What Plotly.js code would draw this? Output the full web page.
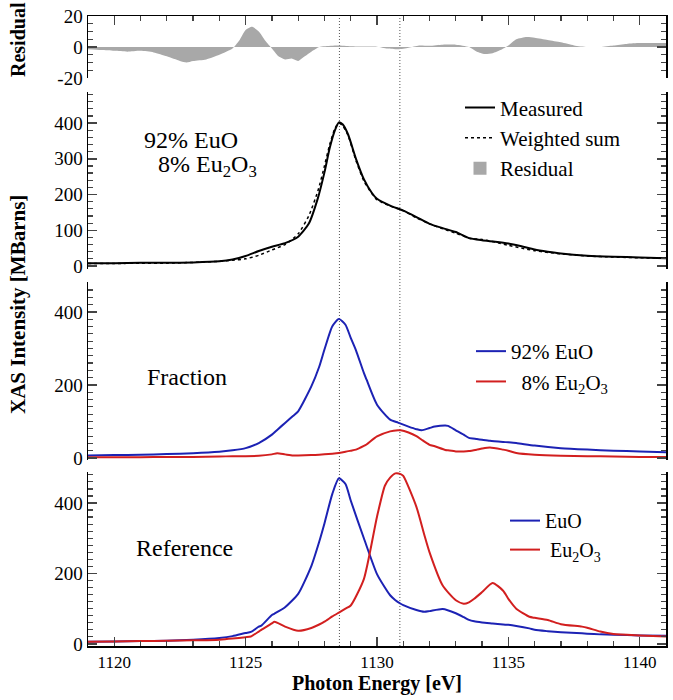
<!DOCTYPE html>
<html>
<head>
<meta charset="utf-8">
<script src="https://cdn.plot.ly/plotly-3.0.1.min.js"></script>
<style>html,body{margin:0;padding:0;background:#fff;}#chart{width:673px;height:700px;}</style>
</head>
<body>
<div id="chart"></div>
<script>
// ---- Data ----
// Residual (top panel)
const resX = [1119,1119.5,1120,1120.5,1121,1121.5,1122,1122.5,1122.75,1123,1123.5,1124,1124.5,1124.75,1125,1125.25,1125.5,1125.75,1126,1126.25,1126.5,1126.75,1127,1127.25,1127.5,1127.8,1128,1128.5,1129,1129.5,1130,1130.4,1130.8,1131.2,1131.6,1132,1132.5,1133,1133.5,1133.8,1134.1,1134.4,1134.7,1135,1135.3,1135.7,1136,1136.5,1137,1137.5,1138,1138.5,1139,1139.5,1140,1140.5,1141];
const resY = [-1.5,-2,-2.5,-3,-2.5,-3.5,-6,-9,-10,-9,-8,-5,-1,4,11,13,10,4,-1,-6,-8,-7.5,-9,-6,-3,0,0.5,1,0.5,0.3,0.2,-1,-1.5,-0.5,1,0.8,1.5,1.5,0,-3,-4.5,-4,-2,1,5,6.5,6,4.5,3,1,0,0,1,2,2.5,2.5,2.5];

// Measured and weighted sum (second panel)
const sumX = [1119,1120,1121,1122,1123,1124,1124.5,1125,1125.5,1126,1126.5,1127,1127.4,1127.75,1128,1128.2,1128.4,1128.55,1128.7,1128.9,1129.2,1129.5,1129.8,1130,1130.5,1131,1131.5,1132,1132.5,1133,1133.5,1134,1134.5,1135,1135.5,1136,1136.5,1137,1138,1139,1140,1141];
const measured = [8,8,9,9,10,13,18,28,42,54,64,82,118,190,262,330,380,402,396,368,300,243,205,188,169,155,137,118,106,95,78,72,68,63,55,46,40,35,29,26,24,22];
const weighted = [7,7,8,8,10,13,16,20,30,45,60,90,140,210,280,340,385,400,392,365,295,238,203,185,168,155,135,118,104,92,78,74,67,58,50,43,38,34,28,25,23,22];

// Fraction panel
const fracX = [1119,1120,1121,1122,1123,1124,1124.5,1125,1125.5,1126,1126.2,1126.5,1126.8,1127,1127.5,1127.8,1128,1128.3,1128.55,1128.8,1129,1129.2,1129.5,1129.6,1130,1130.5,1130.8,1130.9,1131.2,1131.5,1131.7,1132,1132.2,1132.6,1132.7,1133,1133.3,1133.5,1133.8,1134,1134.3,1134.8,1135,1135.3,1136,1137,1138,1139,1140,1141];
const fracEuO = [7,8,9,11,13,17,21,27,41,64,77,96,115,128,196,250,297,361,381,365,329,295,233,215,146,105,97,94,86,79,76,82,86,89,88,76,64,55,52,50,47,44,43,41,34,27,23,20,18,16];
const fracEu2O3 = [2,2,2,3,3,4,5,5,6,10,13,10,7,7,8,9,10,12,14,17,20,23,33,37,59,73,76,76,70,60,50,36,32,22,21,18,18,19,23,26,29,23,20,14,9,6,5,4,3,3];

// Reference panel
const refX = [1119,1120,1121,1122,1123,1124,1124.5,1125,1125.2,1125.5,1125.6,1126,1126.1,1126.5,1127,1127.5,1127.8,1128,1128.3,1128.55,1128.8,1129,1129.5,1130,1130.3,1130.5,1130.7,1130.9,1131,1131.5,1131.8,1132,1132.5,1133,1133.3,1133.5,1133.7,1134,1134.4,1134.8,1135,1135.3,1135.8,1136,1136.5,1137,1137.8,1138,1138.5,1139,1140,1141];
const refEuO = [6,7,8,9,12,17,22,31,34,49,52,82,86,104,142,221,290,342,426,470,454,407,300,198,160,138,124,114,110,96,91,93,99,87,76,68,64,61,58,55,54,51,44,40,36,33,30,29,27,26,24,23];
const refEu2O3 = [6,7,8,9,10,12,15,19,21,35,40,58,63,49,37,45,55,63,78,89,100,109,184,361,449,472,484,482,477,389,310,260,166,124,114,118,128,147,173,151,128,100,77,74,68,56,49,46,35,28,24,21];

const xTicks = [1120,1125,1130,1135,1140];
const markerLines = [1128.57, 1130.87];

// ---- Plot ----
const blue = '#1c22b4';
const red = '#d21f1f';
const serif = '"Times New Roman", "Liberation Serif", Times, "DejaVu Serif", serif';
const smooth = {shape: 'spline', smoothing: 0.6};

const traces = [
  {x: resX, y: resY, xaxis: 'x4', yaxis: 'y4', type: 'scatter', mode: 'lines', fill: 'tozeroy',
   fillcolor: '#a8a8a8', line: Object.assign({width: 0, color: '#a8a8a8'}, smooth), name: 'Residual', showlegend: false},
  {x: sumX, y: measured, xaxis: 'x3', yaxis: 'y3', type: 'scatter', mode: 'lines', line: Object.assign({color: '#000', width: 2}, smooth), name: 'Measured', legend: 'legend'},
  {x: sumX, y: weighted, xaxis: 'x3', yaxis: 'y3', type: 'scatter', mode: 'lines', line: Object.assign({color: '#000', width: 1.5, dash: 'dot'}, smooth), name: 'Weighted sum', legend: 'legend'},
  {x: [null], y: [null], xaxis: 'x3', yaxis: 'y3', type: 'scatter', mode: 'markers', marker: {symbol: 'square', size: 13, color: '#a8a8a8'}, name: 'Residual', legend: 'legend'},
  {x: fracX, y: fracEuO, xaxis: 'x2', yaxis: 'y2', type: 'scatter', mode: 'lines', line: Object.assign({color: blue, width: 2}, smooth), name: '92% EuO', legend: 'legend2'},
  {x: fracX, y: fracEu2O3, xaxis: 'x2', yaxis: 'y2', type: 'scatter', mode: 'lines', line: Object.assign({color: red, width: 2}, smooth), name: '\u00a0\u00a08% Eu<sub>2</sub>O<sub>3</sub>', legend: 'legend2'},
  {x: refX, y: refEuO, xaxis: 'x', yaxis: 'y', type: 'scatter', mode: 'lines', line: Object.assign({color: blue, width: 2}, smooth), name: 'EuO', legend: 'legend3'},
  {x: refX, y: refEu2O3, xaxis: 'x', yaxis: 'y', type: 'scatter', mode: 'lines', line: Object.assign({color: red, width: 2}, smooth), name: '\u00a0Eu<sub>2</sub>O<sub>3</sub>', legend: 'legend3'}
];

const yCommon = {showline: true, linecolor: '#000', linewidth: 1.5, mirror: 'ticks', ticks: 'inside', ticklen: 9, tickwidth: 1.5,
  showgrid: false, zeroline: false, tickfont: {family: serif, size: 19}, fixedrange: true};
const xHidden = {visible: false, range: [1119, 1141], matches: 'x'};

const layout = {
  width: 673, height: 700,
  margin: {l: 88, r: 7, t: 16, b: 54},
  paper_bgcolor: '#fff', plot_bgcolor: '#fff',
  font: {family: serif, color: '#000', size: 17},
  xaxis: {domain: [0, 1], range: [1119, 1141], anchor: 'y', tickvals: xTicks, ticks: 'inside', ticklen: 9, tickwidth: 1.5,
    showline: true, linecolor: '#000', linewidth: 1.5, showgrid: false, zeroline: false, tickfont: {family: serif, size: 17},
    minor: {dtick: 1, tick0: 1120, ticklen: 5, tickwidth: 1.2, ticks: 'inside', showgrid: false},
    title: {text: '<b>Photon Energy [eV]</b>', font: {family: serif, size: 20}, standoff: 5}},
  xaxis2: Object.assign({anchor: 'y2'}, xHidden),
  xaxis3: Object.assign({anchor: 'y3'}, xHidden),
  xaxis4: {anchor: 'y4', side: 'top', range: [1119, 1141], matches: 'x', tickvals: xTicks, ticks: 'inside', ticklen: 9, tickwidth: 1.5,
    showticklabels: false, showline: true, linecolor: '#000', linewidth: 1.5, showgrid: false, zeroline: false,
    minor: {dtick: 1, tick0: 1120, ticklen: 5, tickwidth: 1.2, ticks: 'inside', showgrid: false}},
  yaxis: Object.assign({}, yCommon, {domain: [0, 0.2762], range: [-6, 488], tickvals: [0, 200, 400],
    minor: {dtick: 20, ticklen: 5, tickwidth: 1.2, ticks: 'inside', showgrid: false}}),
  yaxis2: Object.assign({}, yCommon, {domain: [0.2952, 0.5778], range: [-5.5, 482], tickvals: [0, 200, 400],
    minor: {dtick: 20, ticklen: 5, tickwidth: 1.2, ticks: 'inside', showgrid: false}}),
  yaxis3: Object.assign({}, yCommon, {domain: [0.5984, 0.8794], range: [-8.4, 487], tickvals: [0, 100, 200, 300, 400],
    minor: {dtick: 20, ticklen: 5, tickwidth: 1.2, ticks: 'inside', showgrid: false}}),
  yaxis4: Object.assign({}, yCommon, {domain: [0.9016, 1], range: [-20, 20], tickvals: [-20, 0, 20], ticktext: ['-20', '0', '20'],
    minor: {dtick: 5, ticklen: 5, tickwidth: 1.2, ticks: 'inside', showgrid: false}}),
  legend: {x: 0.6436, y: 0.8867, xanchor: 'left', yanchor: 'top', bgcolor: 'rgba(0,0,0,0)', font: {family: serif, size: 21}, tracegroupgap: 0},
  legend2: {x: 0.6626, y: 0.5, xanchor: 'left', yanchor: 'top', bgcolor: 'rgba(0,0,0,0)', font: {family: serif, size: 21}},
  legend3: {x: 0.7215, y: 0.230, xanchor: 'left', yanchor: 'top', bgcolor: 'rgba(0,0,0,0)', font: {family: serif, size: 20}},
  shapes: markerLines.map(v => ({type: 'line', xref: 'x', yref: 'paper', x0: v, x1: v, y0: 0, y1: 1,
    line: {color: '#555', width: 1, dash: '1px,2px'}, layer: 'below'})),
  annotations: [
    {text: '92% EuO', xref: 'paper', yref: 'paper', x: (142 - 88) / 578, y: (646 - 140) / 630, xanchor: 'left', yanchor: 'middle', showarrow: false, font: {family: serif, size: 24}},
    {text: '8% Eu<sub>2</sub>O<sub>3</sub>', xref: 'paper', yref: 'paper', x: (156 - 88) / 578, y: (646 - 166) / 630, xanchor: 'left', yanchor: 'middle', showarrow: false, font: {family: serif, size: 24}},
    {text: 'Fraction', xref: 'paper', yref: 'paper', x: (145 - 88) / 578, y: (646 - 377) / 630, xanchor: 'left', yanchor: 'middle', showarrow: false, font: {family: serif, size: 24}},
    {text: 'Reference', xref: 'paper', yref: 'paper', x: (134 - 88) / 578, y: (646 - 548) / 630, xanchor: 'left', yanchor: 'middle', showarrow: false, font: {family: serif, size: 24}},
    {text: '<b>Residual</b>', xref: 'paper', yref: 'paper', x: (18 - 88) / 578, y: (646 - 40) / 630, xanchor: 'center', yanchor: 'middle', textangle: -90, showarrow: false, font: {family: serif, size: 20}},
    {text: '<b>XAS Intensity [MBarns]</b>', xref: 'paper', yref: 'paper', x: (18 - 88) / 578, y: (646 - 305) / 630, xanchor: 'center', yanchor: 'middle', textangle: -90, showarrow: false, font: {family: serif, size: 21}}
  ],
  showlegend: true
};

Plotly.newPlot('chart', traces, layout, {staticPlot: true, displayModeBar: false});
</script>
</body>
</html>
